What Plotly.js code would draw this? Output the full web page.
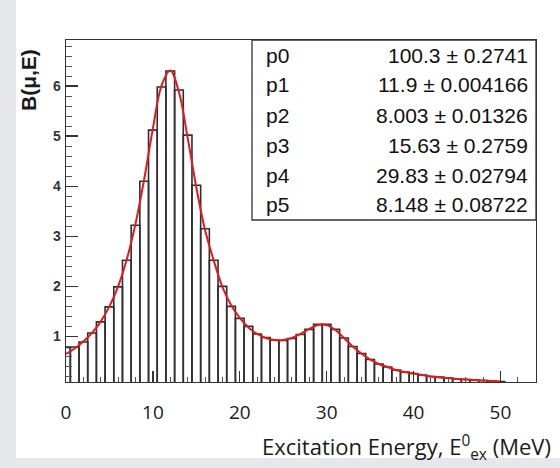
<!DOCTYPE html>
<html><head><meta charset="utf-8">
<script src="https://cdn.plot.ly/plotly-3.0.1.min.js"></script>
<style>html,body{margin:0;padding:0;background:#fff;}#chart{width:560px;height:468px;}</style>
</head><body><div id="chart"></div>
<script>
// ---- data ----
const binCenters = [0,1,2,3,4,5,6,7,8,9,10,11,12,13,14,15,16,17,18,19,20,21,22,23,24,25,26,27,28,29,30,31,32,33,34,35,36,37,38,39,40,41,42,43,44,45,46,47,48,49,50];
const binContents = [0.78,0.79,0.89,1.07,1.29,1.59,1.99,2.52,3.22,4.10,
  5.12,5.98,6.30,5.92,5.02,4.02,3.15,2.52,2.00,1.60,
  1.36,1.20,1.05,0.98,0.93,0.92,0.96,1.04,1.14,1.24,
  1.24,1.14,0.97,0.80,0.66,0.54,0.45,0.39,0.33,0.29,
  0.26,0.23,0.20,0.19,0.17,0.15,0.14,0.13,0.12,0.11,0.10];
const fitX = [0,1,2,3,4,5,6,7,8,9,10,11,12,13,14,15,16,17,18,19,20,21,22,23,24,25,26,27,28,29,30,31,32,33,34,35,36,37,38,39,40,41,42,43,44,45,46,47,48,49,50];
const fitY = [0.65,0.76,0.90,1.07,1.30,1.60,2.00,2.54,3.25,4.14,
  5.15,6.01,6.31,5.88,4.97,3.98,3.13,2.52,1.99,1.63,
  1.37,1.18,1.05,0.97,0.93,0.93,0.97,1.05,1.15,1.23,
  1.23,1.13,0.97,0.80,0.66,0.54,0.45,0.39,0.33,0.29,
  0.26,0.23,0.20,0.18,0.17,0.15,0.14,0.13,0.12,0.11,0.10];
const parNames  = ['p0','p1','p2','p3','p4','p5'];
const parValues = ['100.3','11.9','8.003','15.63','29.83','8.148'];
const parErrors = ['0.2741','0.004166','0.01326','0.2759','0.02794','0.08722'];
const xTickVals = [0,10,20,30,40,50];
const yTickVals = [1,2,3,4,5,6];
const xTitle = 'Excitation Energy, E<sup>0</sup><sub>ex</sub> (MeV)';
const yTitle = 'B(\u03bc,E)';

// ---- geometry helpers (pixel -> paper) ----
const W = 560, H = 468, L = 66, R = 536, T = 40, B = 382;
const px = v => (v - L) / (R - L);
const py = v => (B - v) / (B - T);

const traces = [
  {type:'bar', x: binCenters, y: binContents, width: 1,
   marker:{color:'rgba(255,255,255,0)', line:{color:'#2e2e2e', width:1.6}},
   hoverinfo:'skip'},
  {type:'scatter', mode:'lines', x: fitX, y: fitY,
   line:{color:'#e3191c', width:2, shape:'spline', smoothing:1},
   hoverinfo:'skip'}
];

const ann = [];
ann.push({xref:'paper', yref:'paper', x:px(28.5), y:py(80.5), text:'<b>' + yTitle + '</b>', textangle:-90,
  showarrow:false, xanchor:'center', yanchor:'middle',
  font:{family:'Liberation Sans, Arial, sans-serif', size:21, color:'#1a1a1a'}});
ann.push({xref:'paper', yref:'paper', x:px(553), y:py(447), text:xTitle,
  showarrow:false, xanchor:'right', yanchor:'middle',
  font:{family:'Open Sans, sans-serif', size:22, color:'#1a1a1a'}});
// y tick labels
yTickVals.forEach(v => {
  ann.push({xref:'paper', yref:'y', x:px(62.5), y:v, text:'<b>' + v + '</b>',
    showarrow:false, xanchor:'right', yanchor:'middle',
    font:{family:'Liberation Sans, Arial, sans-serif', size:14, color:'#333'}});
});
for (let i = 0; i < parNames.length; i++) {
  const yc = 55 + i * 30;
  ann.push({xref:'paper', yref:'paper', x:px(264), y:py(yc), text:parNames[i],
    showarrow:false, xanchor:'left', yanchor:'middle',
    font:{family:'Liberation Sans, Arial, sans-serif', size:21, color:'#111'}});
  ann.push({xref:'paper', yref:'paper', x:px(530), y:py(yc), text:parValues[i] + ' \u00b1 ' + parErrors[i],
    showarrow:false, xanchor:'right', yanchor:'middle',
    font:{family:'Liberation Sans, Arial, sans-serif', size:21, color:'#111'}});
}

const shapes = [
  {type:'rect', xref:'paper', yref:'paper', x0:px(0), x1:px(16), y0:py(H), y1:py(0),
   fillcolor:'#e5e7eb', line:{width:0}, layer:'below'},
  {type:'rect', xref:'paper', yref:'paper', x0:px(16), x1:px(W), y0:py(H), y1:py(458),
   fillcolor:'#e5e7eb', line:{width:0}, layer:'below'},
  {type:'rect', xref:'paper', yref:'paper', x0:px(252), x1:px(536), y0:py(220), y1:py(40),
   fillcolor:'#ffffff', line:{color:'#333', width:1.3}, layer:'above'}
];

const layout = {
  width: W, height: H,
  margin:{l:L, r:W-R, t:T, b:H-B, pad:0},
  paper_bgcolor:'#ffffff', plot_bgcolor:'#ffffff',
  showlegend:false, bargap:0,
  xaxis:{range:[0,54.1], showgrid:false, zeroline:false,
    showline:true, mirror:true, linecolor:'#333', linewidth:1.3,
    tickmode:'array', tickvals:xTickVals, ticktext:xTickVals.map(String),
    ticks:'inside', ticklen:11, tickwidth:1.3, tickcolor:'#333',
    minor:{dtick:2, tick0:0, ticks:'inside', ticklen:5, tickwidth:1, tickcolor:'#555', showgrid:false},
    tickfont:{family:'Open Sans, sans-serif', size:19, color:'#1a1a1a'},
    ticklabelstandoff:13},
  yaxis:{range:[0.09,6.92], showgrid:false, zeroline:false,
    showline:true, mirror:true, linecolor:'#333', linewidth:1.3,
    tickmode:'array', tickvals:yTickVals, showticklabels:false,
    ticks:'inside', ticklen:12, tickwidth:1.3, tickcolor:'#333',
    minor:{dtick:0.2, tick0:0, ticks:'inside', ticklen:6, tickwidth:1, tickcolor:'#555', showgrid:false}},
  annotations: ann,
  shapes: shapes
};

Plotly.newPlot('chart', traces, layout, {staticPlot:true, displayModeBar:false});
</script>
</body></html>
